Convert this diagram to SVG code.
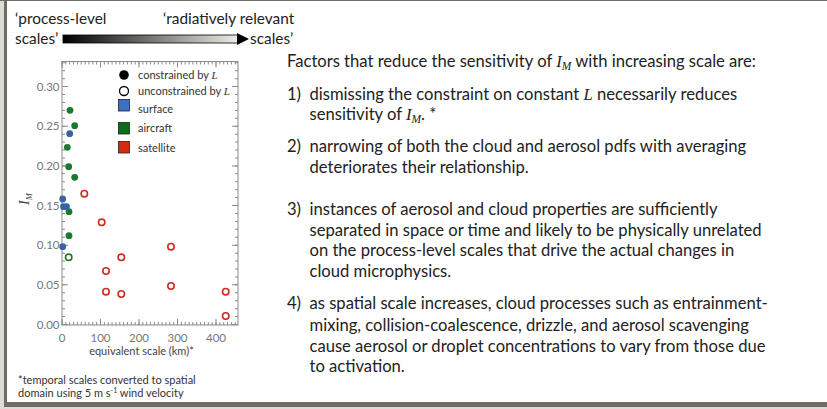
<svg xmlns="http://www.w3.org/2000/svg" width="827" height="409" viewBox="0 0 827 409">
<defs>
<linearGradient id="scaleGrad" x1="0" y1="0" x2="1" y2="0">
<stop offset="0" stop-color="#000"/>
<stop offset="1" stop-color="#ecece6"/>
</linearGradient>
<style>
.ui{font-family:Lato,"Open Sans","Liberation Sans",sans-serif;fill:#222}
.main{font-size:16.6px}
.top{font-size:15.4px}
.tick{font-family:Lato,"Liberation Sans",sans-serif;font-size:11.5px;fill:#777}
.leg{font-family:Lato,"Liberation Sans",sans-serif;font-size:11px;fill:#333}
.it{font-family:"Liberation Serif",serif;font-style:italic}
.ax{fill:none;stroke:#8a8a8a}
.fg{fill:#1a7a2a}
.fb{fill:#3b62a3}
.og{fill:#fff;stroke:#1a7a2a;stroke-width:1.6}
.or{fill:#fff;stroke:#cc2b1d;stroke-width:1.6}
</style>
</defs>
<rect width="827" height="409" fill="#fff"/>
<g id="frame">
<rect x="0" y="0" width="4" height="409" fill="#dcdcd4"/>
<rect x="4" y="0" width="3" height="409" fill="#6e6e66"/>
<rect x="0" y="0" width="827" height="1" fill="#6e6e66"/>
<rect x="4" y="402" width="823" height="5" fill="#6e6e66"/>
<rect x="4" y="407" width="823" height="2" fill="#dcdcd4"/>
</g>
<g id="scale-arrow">
<text class="ui top" x="15" y="24">‘process-level</text>
<text class="ui top" x="15" y="43.5">scales’</text>
<text class="ui top" x="163" y="24">‘radiatively relevant</text>
<text class="ui top" x="250" y="43.5">scales’</text>
<rect x="63" y="35" width="175" height="8" fill="url(#scaleGrad)" stroke="#000" stroke-width="0.8"/>
<polygon points="237,33 249,39 237,45" fill="#000"/>
</g>
<g id="plot">
<rect class="ax" x="62" y="61.5" width="176" height="263.5" stroke-width="1"/>
<g class="ax" stroke-width="3" stroke-dasharray="1 2.85">
<line x1="61.5" y1="323.5" x2="238" y2="323.5"/>
<line x1="61.5" y1="63" x2="238" y2="63"/>
</g>
<g class="ax" stroke-width="6" stroke-dasharray="1 37.5">
<line x1="61.5" y1="322" x2="238" y2="322"/>
<line x1="61.5" y1="64.5" x2="238" y2="64.5"/>
</g>
<g class="ax" stroke-width="3" stroke-dasharray="1 6.93">
<line x1="63.5" y1="325" x2="63.5" y2="61.5"/>
<line x1="236.5" y1="325" x2="236.5" y2="61.5"/>
</g>
<g class="ax" stroke-width="6" stroke-dasharray="1 38.65">
<line x1="65" y1="325" x2="65" y2="61.5"/>
<line x1="235" y1="325" x2="235" y2="61.5"/>
</g>
<g text-anchor="end">
<text class="tick" x="59.5" y="90.6">0.30</text>
<text class="tick" x="59.5" y="130.3">0.25</text>
<text class="tick" x="59.5" y="169.9">0.20</text>
<text class="tick" x="59.5" y="209.5">0.15</text>
<text class="tick" x="59.5" y="249.2">0.10</text>
<text class="tick" x="59.5" y="288.8">0.05</text>
<text class="tick" x="59.5" y="328.5">0.00</text>
</g>
<g text-anchor="middle">
<text class="tick" x="62" y="341.5">0</text>
<text class="tick" x="100.5" y="341.5">100</text>
<text class="tick" x="139" y="341.5">200</text>
<text class="tick" x="177.5" y="341.5">300</text>
<text class="tick" x="216" y="341.5">400</text>
<text class="leg" x="141.5" y="355" font-size="12.5" style="fill:#444">equivalent scale (km)*</text>
</g>
<text transform="translate(29,199) rotate(-90)" font-family="Liberation Serif,serif" font-style="italic" font-size="14" fill="#444" text-anchor="middle">I<tspan font-size="8.5" dy="3">M</tspan></text>
<g id="data">
<circle class="fg" cx="70" cy="110.3" r="3.4"/>
<circle class="fg" cx="74.7" cy="125.7" r="3.4"/>
<circle class="fg" cx="67.3" cy="147.3" r="3.4"/>
<circle class="fg" cx="68.7" cy="166.7" r="3.4"/>
<circle class="fg" cx="74.7" cy="177.3" r="3.4"/>
<circle class="fg" cx="69" cy="211.7" r="3.4"/>
<circle class="fg" cx="69" cy="235.7" r="3.4"/>
<circle class="fb" cx="69.7" cy="133.7" r="3.4"/>
<circle class="fb" cx="62.7" cy="199" r="3.4"/>
<circle class="fb" cx="63.5" cy="206.7" r="3.4"/>
<circle class="fb" cx="66.5" cy="206.7" r="3.4"/>
<circle class="fb" cx="62.7" cy="246.7" r="3.4"/>
<circle class="og" cx="68.7" cy="257.3" r="3.2"/>
<circle class="or" cx="84.3" cy="193.7" r="3.2"/>
<circle class="or" cx="101.7" cy="222.3" r="3.2"/>
<circle class="or" cx="171" cy="246.7" r="3.2"/>
<circle class="or" cx="121.3" cy="257.3" r="3.2"/>
<circle class="or" cx="106" cy="271" r="3.2"/>
<circle class="or" cx="106" cy="291.7" r="3.2"/>
<circle class="or" cx="121.3" cy="294" r="3.2"/>
<circle class="or" cx="171" cy="286" r="3.2"/>
<circle class="or" cx="225.7" cy="291.7" r="3.2"/>
<circle class="or" cx="225.7" cy="316" r="3.2"/>
</g>
</g>
<g id="legend">
<circle cx="124" cy="75" r="4.8" fill="#000"/>
<circle cx="124" cy="91" r="4.5" fill="#fff" stroke="#000" stroke-width="1.3"/>
<rect x="118.5" y="99.5" width="11" height="11.5" fill="#3b72c0" stroke="#222" stroke-width="0.8"/>
<rect x="118.5" y="122.5" width="11" height="11.5" fill="#0a6e1a" stroke="#222" stroke-width="0.8"/>
<rect x="118.5" y="141.5" width="11" height="11.5" fill="#d42a10" stroke="#222" stroke-width="0.8"/>
<text class="leg" x="138" y="78.5">constrained by <tspan class="it">L</tspan></text>
<text class="leg" x="138" y="94.5">unconstrained by <tspan class="it">L</tspan></text>
<text class="leg" x="138" y="113">surface</text>
<text class="leg" x="138" y="132">aircraft</text>
<text class="leg" x="138" y="151.5">satellite</text>
</g>
<g id="footnote">
<text class="leg" x="18" y="384" font-size="10.6" style="fill:#333">*temporal scales converted to spatial</text>
<text class="leg" x="18" y="397" font-size="10.6" style="fill:#333">domain using 5 m s<tspan font-size="7" dy="-4">-1</tspan><tspan dy="4"> wind velocity</tspan></text>
</g>
<g id="factors">
<text class="ui main" x="287" y="66.7">Factors that reduce the sensitivity of <tspan class="it">I</tspan><tspan class="it" font-size="11.5" dy="3">M</tspan><tspan dy="-3"> with increasing scale are:</tspan></text>
<text class="ui main" x="287" y="100">1)</text>
<text class="ui main" x="309.5" y="100">dismissing the constraint on constant <tspan class="it">L</tspan> necessarily reduces</text>
<text class="ui main" x="309.5" y="120">sensitivity of <tspan class="it">I</tspan><tspan class="it" font-size="11.5" dy="3">M</tspan><tspan dy="-3">. *</tspan></text>
<text class="ui main" x="287" y="151.7">2)</text>
<text class="ui main" x="309.5" y="151.7">narrowing of both the cloud and aerosol pdfs with averaging</text>
<text class="ui main" x="309.5" y="173.3">deteriorates their relationship.</text>
<text class="ui main" x="287" y="215">3)</text>
<text class="ui main" x="309.5" y="215">instances of aerosol and cloud properties are sufficiently</text>
<text class="ui main" x="309.5" y="235.7">separated in space or time and likely to be physically unrelated</text>
<text class="ui main" x="309.5" y="256">on the process-level scales that drive the actual changes in</text>
<text class="ui main" x="309.5" y="276.7">cloud microphysics.</text>
<text class="ui main" x="287" y="309.3">4)</text>
<text class="ui main" x="309.5" y="309.3">as spatial scale increases, cloud processes such as entrainment-</text>
<text class="ui main" x="309.5" y="330.7">mixing, collision-coalescence, drizzle, and aerosol scavenging</text>
<text class="ui main" x="309.5" y="351.7">cause aerosol or droplet concentrations to vary from those due</text>
<text class="ui main" x="309.5" y="371.7">to activation.</text>
</g>
</svg>
